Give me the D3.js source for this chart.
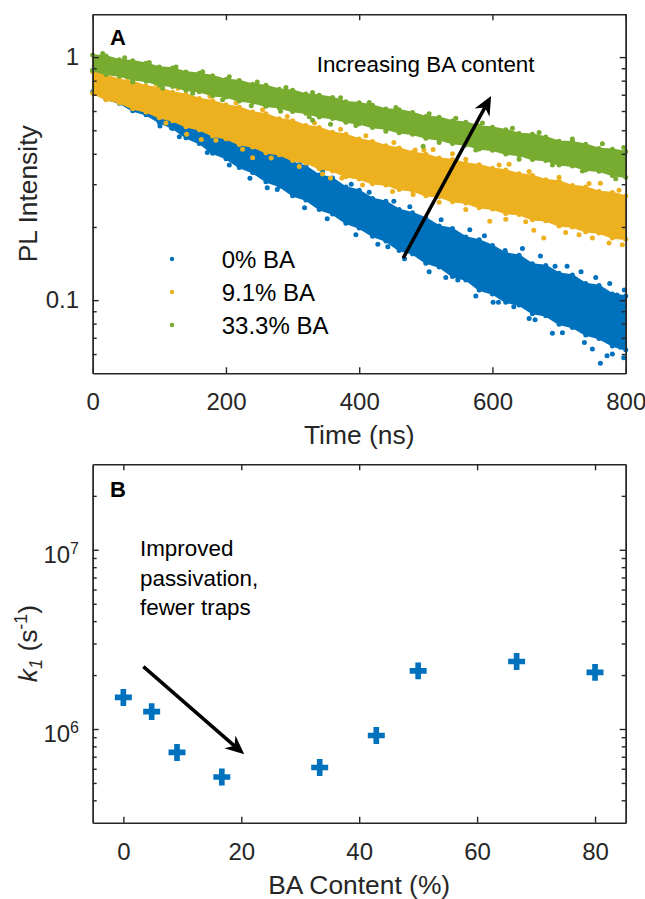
<!DOCTYPE html>
<html>
<head>
<meta charset="utf-8">
<script src="https://cdn.jsdelivr.net/npm/d3@7"></script>
<style>
  body { margin: 0; background: #fff; }
  svg { display: block; }
</style>
</head>
<body>
<svg id="chart" width="645" height="899"></svg>
<script>
// ---- Panel A: PL decay, band envelopes (every 20 ns) ----
const times = [0, 20, 40, 60, 80, 100, 120, 140, 160, 180, 200, 220, 240, 260, 280, 300,
  320, 340, 360, 380, 400, 420, 440, 460, 480, 500, 520, 540, 560, 580, 600, 620, 640,
  660, 680, 700, 720, 740, 760, 780, 800];

const blueHi = [0.88, 0.836, 0.779, 0.752, 0.702, 0.676, 0.624, 0.598, 0.551, 0.532, 0.497,
  0.462, 0.446, 0.411, 0.398, 0.369, 0.356, 0.327, 0.318, 0.292, 0.283, 0.262, 0.255, 0.236,
  0.229, 0.218, 0.202, 0.197, 0.182, 0.177, 0.168, 0.156, 0.153, 0.141, 0.139, 0.129, 0.127,
  0.117, 0.115, 0.106, 0.104];
const blueLo = [0.72, 0.671, 0.646, 0.601, 0.579, 0.538, 0.509, 0.466, 0.441, 0.402, 0.382,
  0.351, 0.335, 0.307, 0.294, 0.269, 0.258, 0.236, 0.226, 0.207, 0.198, 0.183, 0.175, 0.16,
  0.155, 0.142, 0.137, 0.125, 0.121, 0.11, 0.106, 0.098, 0.0955, 0.088, 0.0862, 0.0795,
  0.0772, 0.0718, 0.0695, 0.0648, 0.0625];

const orangeHi = [0.87, 0.842, 0.809, 0.794, 0.761, 0.748, 0.717, 0.704, 0.676, 0.662, 0.636,
  0.622, 0.594, 0.584, 0.558, 0.547, 0.523, 0.513, 0.491, 0.481, 0.46, 0.45, 0.432, 0.423,
  0.406, 0.398, 0.384, 0.379, 0.366, 0.361, 0.349, 0.343, 0.331, 0.326, 0.313, 0.309, 0.296,
  0.292, 0.28, 0.277, 0.268];
const orangeLo = [0.71, 0.668, 0.649, 0.613, 0.595, 0.563, 0.547, 0.517, 0.502, 0.474, 0.461,
  0.437, 0.427, 0.404, 0.396, 0.375, 0.367, 0.347, 0.34, 0.322, 0.315, 0.301, 0.298, 0.285,
  0.282, 0.269, 0.266, 0.254, 0.251, 0.24, 0.237, 0.227, 0.225, 0.214, 0.212, 0.202, 0.2,
  0.191, 0.189, 0.18, 0.178];

const greenHi = [1.02, 1.011, 0.975, 0.966, 0.944, 0.911, 0.901, 0.868, 0.859, 0.838, 0.809,
  0.801, 0.774, 0.765, 0.738, 0.731, 0.705, 0.697, 0.682, 0.655, 0.649, 0.634, 0.612, 0.607,
  0.592, 0.569, 0.566, 0.546, 0.54, 0.521, 0.515, 0.503, 0.485, 0.481, 0.469, 0.451, 0.448,
  0.438, 0.421, 0.418, 0.409];
const greenLo = [0.88, 0.849, 0.836, 0.807, 0.795, 0.767, 0.756, 0.73, 0.72, 0.694, 0.685,
  0.66, 0.65, 0.628, 0.619, 0.597, 0.588, 0.567, 0.559, 0.54, 0.532, 0.513, 0.506, 0.488,
  0.481, 0.464, 0.457, 0.441, 0.435, 0.419, 0.414, 0.399, 0.394, 0.379, 0.375, 0.36, 0.356,
  0.343, 0.339, 0.326, 0.32];

// loose points sticking out of the bands [time ns, intensity]
const blueOut = [[101, 0.52], [118, 0.512], [277, 0.285], [443, 0.166], [548, 0.121],
  [601, 0.098], [609, 0.098], [619, 0.16], [632, 0.094], [664, 0.083], [690, 0.073],
  [694, 0.138], [762, 0.055], [772, 0.059], [787, 0.105], [792, 0.064], [797, 0.058],
  [312, 0.372], [345, 0.34], [388, 0.3], [415, 0.278], [452, 0.255], [476, 0.242],
  [523, 0.214], [566, 0.195], [588, 0.184], [645, 0.163], [672, 0.152], [712, 0.138],
  [733, 0.131], [755, 0.124], [776, 0.117], [798, 0.11],
  [130, 0.47], [172, 0.405], [205, 0.36], [236, 0.317], [262, 0.29], [318, 0.24],
  [352, 0.216], [395, 0.186], [428, 0.17], [468, 0.148], [505, 0.131], [530, 0.124],
  [575, 0.104], [655, 0.084], [705, 0.0735], [738, 0.067], [750, 0.063], [780, 0.06]];
const orangeOut = [[141, 0.481], [163, 0.458], [240, 0.385], [357, 0.318], [374, 0.318],
  [481, 0.272], [484, 0.415], [511, 0.417], [540, 0.4], [596, 0.211], [625, 0.362],
  [662, 0.194], [677, 0.18], [730, 0.186], [762, 0.303], [795, 0.169],
  [52, 0.825], [95, 0.775], [128, 0.745], [176, 0.69], [215, 0.648], [255, 0.607],
  [292, 0.57], [333, 0.535], [372, 0.505], [410, 0.475], [452, 0.445], [497, 0.415],
  [560, 0.38], [610, 0.36], [655, 0.338], [700, 0.32], [745, 0.302], [790, 0.283],
  [110, 0.535], [185, 0.455], [225, 0.418], [268, 0.384], [310, 0.355], [345, 0.33],
  [405, 0.298], [450, 0.28], [520, 0.253], [560, 0.236], [620, 0.215], [650, 0.21],
  [710, 0.19], [750, 0.18], [775, 0.172]];
const greenOut = [[330, 0.55], [357, 0.529], [496, 0.43],
  [15, 1.035], [48, 0.995], [85, 0.95], [125, 0.91], [165, 0.87], [205, 0.83], [247, 0.79],
  [290, 0.75], [330, 0.715], [372, 0.68], [415, 0.65], [455, 0.62], [505, 0.585],
  [545, 0.56], [585, 0.535], [630, 0.51], [670, 0.49], [720, 0.46], [765, 0.44], [797, 0.425],
  [60, 0.79], [105, 0.745], [150, 0.71], [195, 0.668], [238, 0.63], [282, 0.598],
  [325, 0.568], [395, 0.523], [440, 0.495], [520, 0.445], [575, 0.415], [640, 0.38],
  [690, 0.36], [735, 0.34], [785, 0.316]];

const legendLabels = ['0% BA', '9.1% BA', '33.3% BA'];
const colors = ['#0072BD', '#EDB120', '#77AC30'];

// ---- Panel B: k1 vs BA content ----
const baContent = [0, 4.8, 9.1, 16.7, 33.3, 42.9, 50, 66.7, 80];
const k1 = [1.5e6, 1.25e6, 7.4e5, 5.4e5, 6.1e5, 9.2e5, 2.11e6, 2.38e6, 2.07e6];

const INK = '#262626';
const FONT = '"Liberation Sans", Arial, Helvetica, sans-serif';

const svg = d3.select('#chart').attr('font-family', FONT);

const xA = d3.scaleLinear().domain([0, 800]).range([92.7, 625.7]);
const yA = d3.scaleLog().domain([0.05, 1.5]).range([373.3, 14.3]);
const xB = d3.scaleLinear().domain([-5.2, 85.2]).range([92.7, 625.7]);
const yB = d3.scaleLog().domain([3e5, 3e7]).range([822.7, 464.3]);

/**
 * MATLAB style box: inward ticks on all four sides, labels bottom/left
 */
function drawBox(x, y, opts) {
  const [x0, x1] = x.range();
  const [y0, y1] = y.range();
  const add = (axis, tx, ty) => svg.append('g')
    .attr('transform', `translate(${tx},${ty})`)
    .call(axis.tickSizeOuter(0))
    .attr('font-size', 24)
    .attr('font-family', FONT);

  add(d3.axisBottom(x).tickValues(opts.xTicks).tickSizeInner(-6).tickPadding(opts.xPad), 0, y0);
  add(d3.axisTop(x).tickValues(opts.xTicks).tickSizeInner(-6).tickFormat(''), 0, y1);
  add(d3.axisLeft(y).tickValues(opts.yMajor).tickSizeInner(-6).tickPadding(13.7)
    .tickFormat(opts.yFormat), x0, 0);
  add(d3.axisRight(y).tickValues(opts.yMajor).tickSizeInner(-6).tickFormat(''), x1, 0);
  add(d3.axisLeft(y).tickValues(opts.yMinor).tickSizeInner(-4).tickFormat(''), x0, 0);
  add(d3.axisRight(y).tickValues(opts.yMinor).tickSizeInner(-4).tickFormat(''), x1, 0);
}

// ---------------- Panel A ----------------
const seriesA = [
  { label: legendLabels[0], color: colors[0], hi: blueHi, lo: blueLo, out: blueOut },
  { label: legendLabels[1], color: colors[1], hi: orangeHi, lo: orangeLo, out: orangeOut },
  { label: legendLabels[2], color: colors[2], hi: greenHi, lo: greenLo, out: greenOut }
];

seriesA.forEach(s => {
  const g = svg.append('g').attr('class', 'series');
  const band = d3.area()
    .x(t => xA(t))
    .y0((t, i) => yA(s.lo[i]))
    .y1((t, i) => yA(s.hi[i]));
  g.append('path')
    .attr('d', band(times))
    .attr('fill', s.color)
    .attr('stroke', s.color)
    .attr('stroke-width', 1.5)
    .attr('stroke-linejoin', 'round');
  // dots along the edges give the ragged scatter look
  const pts = times.flatMap((t, i) => [[t, s.hi[i]], [t, s.lo[i]]]).concat(s.out);
  g.selectAll('circle')
    .data(pts)
    .join('circle')
    .attr('cx', d => xA(d[0]))
    .attr('cy', d => yA(d[1]))
    .attr('r', 2.5)
    .attr('fill', s.color);
});

drawBox(xA, yA, {
  xTicks: [0, 200, 400, 600, 800],
  xPad: 20,
  yMajor: [0.1, 1],
  yMinor: [0.06, 0.07, 0.08, 0.09, 0.2, 0.3, 0.4, 0.5, 0.6, 0.7, 0.8, 0.9],
  yFormat: d3.format('~g')
});

// legend
const legend = svg.append('g').attr('class', 'legend');
seriesA.forEach((s, i) => {
  const cy = 259 + i * 33;
  legend.append('circle').attr('cx', 172).attr('cy', cy).attr('r', 2.2).attr('fill', s.color);
  legend.append('text')
    .attr('x', 221.7)
    .attr('y', cy + 9)
    .attr('font-size', 24)
    .attr('fill', '#000')
    .text(s.label);
});

svg.append('text').attr('x', 110).attr('y', 44.5)
  .attr('font-size', 22).attr('font-weight', 'bold').text('A');

svg.append('text').attr('x', 316.7).attr('y', 72)
  .attr('font-size', 22.4).text('Increasing BA content');

svg.append('text')
  .attr('transform', 'translate(37,193.8) rotate(-90)')
  .attr('text-anchor', 'middle')
  .attr('font-size', 26.4)
  .attr('fill', INK)
  .text('PL Intensity');

svg.append('text')
  .attr('x', 359.2).attr('y', 444)
  .attr('text-anchor', 'middle')
  .attr('font-size', 26.4)
  .attr('fill', INK)
  .text('Time (ns)');

// ---------------- Panel B ----------------
svg.append('g').attr('class', 'points')
  .selectAll('path')
  .data(baContent)
  .join('path')
  .attr('transform', (d, i) => `translate(${xB(d)},${yB(k1[i])})`)
  .attr('d', d3.symbol(d3.symbolCross, 160))
  .attr('fill', colors[0]);

drawBox(xB, yB, {
  xTicks: [0, 20, 40, 60, 80],
  xPad: 20.6,
  yMajor: [1e6, 1e7],
  yMinor: [4e5, 5e5, 6e5, 7e5, 8e5, 9e5, 2e6, 3e6, 4e6, 5e6, 6e6, 7e6, 8e6, 9e6, 2e7],
  yFormat: () => ''
});

// 10^n labels
[1e6, 1e7].forEach(v => {
  const t = svg.append('text')
    .attr('x', 79)
    .attr('y', yB(v) + 13)
    .attr('text-anchor', 'end')
    .attr('font-size', 24)
    .attr('fill', INK);
  t.append('tspan').text('10');
  t.append('tspan').attr('font-size', 16).attr('dy', -9).text(Math.round(Math.log10(v)));
});

svg.append('text').attr('x', 110).attr('y', 497.2)
  .attr('font-size', 22).attr('font-weight', 'bold').text('B');

const note = svg.append('text').attr('font-size', 22.4).attr('fill', '#000');
['Improved', 'passivation,', 'fewer traps'].forEach((line, i) => {
  note.append('tspan').attr('x', 140).attr('y', 556 + i * 29.5).text(line);
});

const kLabel = svg.append('text')
  .attr('transform', 'translate(37,643.5) rotate(-90)')
  .attr('text-anchor', 'middle')
  .attr('font-size', 26.4)
  .attr('fill', INK);
kLabel.append('tspan').attr('font-style', 'italic').text('k');
kLabel.append('tspan').attr('font-style', 'italic').attr('font-size', 18).attr('dy', 5).text('1');
kLabel.append('tspan').attr('dy', -5).text(' (s');
kLabel.append('tspan').attr('font-size', 18).attr('dy', -10).text('-1');
kLabel.append('tspan').attr('dy', 10).text(')');

svg.append('text')
  .attr('x', 359.2).attr('y', 893.5)
  .attr('text-anchor', 'middle')
  .attr('font-size', 26.4)
  .attr('fill', INK)
  .text('BA Content (%)');

// axis styling
svg.selectAll('.domain, .tick line').attr('stroke', INK).attr('stroke-width', 1.4);
svg.selectAll('.tick text').attr('fill', INK);

// ---------------- arrows ----------------
function arrow(p0, p1) {
  const [ax, ay] = p0, [bx, by] = p1;
  const len = Math.hypot(bx - ax, by - ay);
  const ux = (bx - ax) / len, uy = (by - ay) / len;
  const nx = -uy, ny = ux;
  const L = 19, hw = 8.5, notch = 13;
  svg.append('line')
    .attr('x1', ax).attr('y1', ay)
    .attr('x2', bx - ux * notch).attr('y2', by - uy * notch)
    .attr('stroke', '#000').attr('stroke-width', 3.5);
  const head = [
    [bx, by],
    [bx - ux * L + nx * hw, by - uy * L + ny * hw],
    [bx - ux * notch, by - uy * notch],
    [bx - ux * L - nx * hw, by - uy * L - ny * hw]
  ];
  svg.append('path').attr('d', d3.line()(head) + 'Z').attr('fill', '#000');
}

arrow([xA(466), yA(0.149)], [xA(598), yA(0.692)]);
arrow([xB(3.4), yB(2.23e6)], [xB(20.5), yB(7.22e5)]);
</script>
</body>
</html>
